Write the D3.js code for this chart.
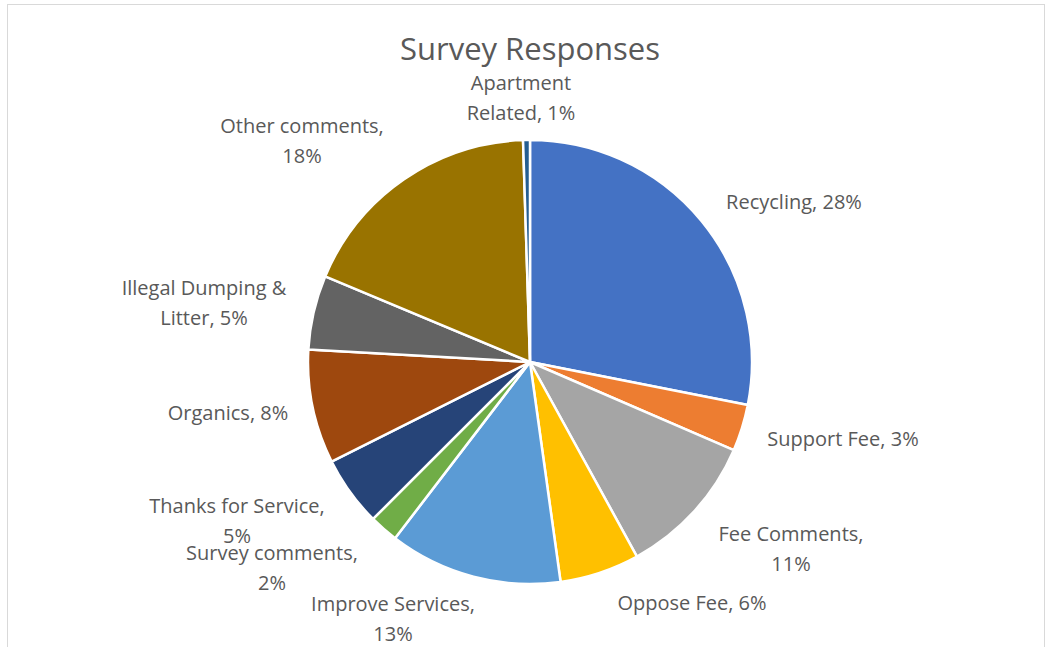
<!DOCTYPE html>
<html>
<head>
<meta charset="utf-8">
<script src="https://cdn.jsdelivr.net/npm/d3@7"></script>
<style>
  html, body { margin: 0; padding: 0; background: #fff; }
  svg { display: block; }
  text { font-family: "Open Sans", "Noto Sans", sans-serif; fill: #595959; }
</style>
</head>
<body>
<svg id="chart" width="1049" height="647"></svg>
<script>
// Survey response shares (percent of all responses), clockwise from 12 o'clock
const categories = [
  "Recycling", "Support Fee", "Fee Comments", "Oppose Fee", "Improve Services",
  "Survey comments", "Thanks for Service", "Organics", "Illegal Dumping & Litter",
  "Other comments", "Apartment Related"
];
const shares = [28.1, 3.4, 10.5, 5.8, 12.6, 2.1, 5.1, 8.3, 5.4, 18.2, 0.5];
const colors = [
  "#4472C4", "#ED7D31", "#A5A5A5", "#FFC000", "#5B9BD5",
  "#70AD47", "#264478", "#9E480E", "#636363", "#997300", "#255E91"
];
// How each data label breaks across lines
const labelLines = [
  ["Recycling, {p}"], ["Support Fee, {p}"], ["Fee Comments,", "{p}"], ["Oppose Fee, {p}"],
  ["Improve Services,", "{p}"], ["Survey comments,", "{p}"], ["Thanks for Service,", "{p}"],
  ["Organics, {p}"], ["Illegal Dumping &", "Litter, {p}"], ["Other comments,", "{p}"],
  ["Apartment", "Related, {p}"]
];

const cx = 530, cy = 362, R = 222;

const svg = d3.select("#chart");

// chart frame
svg.append("rect")
  .attr("x", 7.5).attr("y", 4.5).attr("width", 1037).attr("height", 660)
  .attr("fill", "#fff").attr("stroke", "#d9d9d9").attr("stroke-width", 1);

svg.append("text")
  .attr("x", cx).attr("y", 60)
  .attr("text-anchor", "middle")
  .style("font-size", "31px")
  .text("Survey Responses");

const data = categories.map((c, i) => ({ name: c, value: shares[i], color: colors[i], lines: labelLines[i] }));

const pie = d3.pie().value(d => d.value).sort(null);
const arcs = pie(data);
const arc = d3.arc().innerRadius(0).outerRadius(R);

const g = svg.append("g").attr("transform", `translate(${cx},${cy})`);

g.selectAll("path")
  .data(arcs)
  .join("path")
  .attr("d", arc)
  .attr("fill", d => d.data.color)
  .attr("stroke", "#fff")
  .attr("stroke-width", 2.5)
  .attr("stroke-linejoin", "round");

// data label centres in chart coordinates
const labelCentres = {
  "Recycling": [794, 202],
  "Support Fee": [843, 439],
  "Fee Comments": [791, 549],
  "Oppose Fee": [692, 603],
  "Improve Services": [393, 619],
  "Survey comments": [272, 568],
  "Thanks for Service": [237, 521],
  "Organics": [228, 413],
  "Illegal Dumping & Litter": [204, 303],
  "Other comments": [302, 141],
  "Apartment Related": [521, 98]
};

const lineH = 29.5;
svg.append("g").selectAll("text")
  .data(arcs)
  .join("text")
  .attr("text-anchor", "middle")
  .style("font-size", "20px")
  .each(function(d) {
    const [x, y] = labelCentres[d.data.name];
    const pct = Math.round(d.data.value) + "%";
    const n = d.data.lines.length;
    d3.select(this).selectAll("tspan")
      .data(d.data.lines)
      .join("tspan")
      .attr("x", x)
      .attr("y", (t, i) => y + (i - (n - 1) / 2) * lineH)
      .attr("dy", "0.35em")
      .text(t => t.replace("{p}", pct));
  });
</script>
</body>
</html>
